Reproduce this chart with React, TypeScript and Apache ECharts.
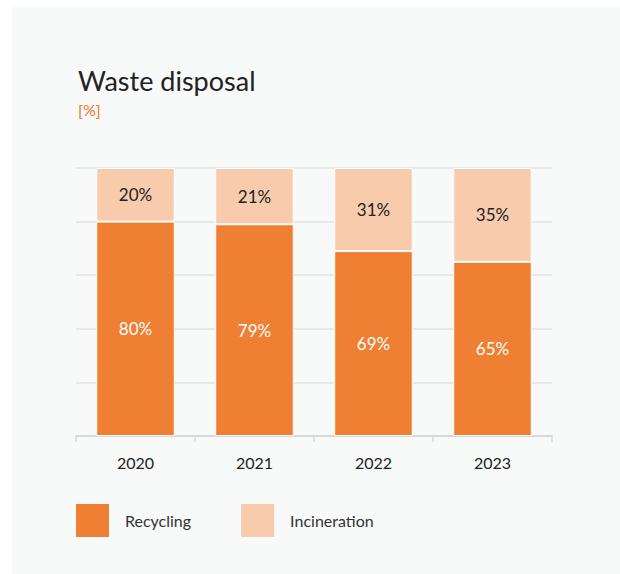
import React, { useEffect, useRef } from "react";
import * as echarts from "echarts";

const years = ["2020", "2021", "2022", "2023"];
const recycling = [80, 79, 69, 65];
const incineration = [20, 21, 31, 35];
const seriesNames = ["Recycling", "Incineration"];

const FONT = "Lato, 'Noto Sans', sans-serif";

export default function App() {
  const ref = useRef<HTMLDivElement>(null);
  useEffect(() => {
    document.body.style.margin = "0";
    const chart = echarts.init(ref.current!, undefined, { renderer: "svg" });
    chart.setOption({
      animation: false,
      backgroundColor: "#ffffff",
      textStyle: { fontFamily: FONT },
      graphic: [
        {
          type: "rect",
          z: -10,
          shape: { x: 12, y: 7, width: 620, height: 580 },
          style: { fill: "#f8f9f9" },
          silent: true,
        },
        {
          type: "text",
          left: 78,
          top: 67,
          style: { text: "Waste disposal", fontSize: 27, fill: "#222222", fontFamily: FONT },
        },
        {
          type: "text",
          left: 78,
          top: 101,
          style: { text: "[%]", fontSize: 16, fontWeight: 500, fill: "#ee7f33", fontFamily: FONT },
        },
      ],
      legend: {
        left: 71,
        top: 499,
        itemWidth: 33,
        itemHeight: 33,
        itemGap: 50,
        icon: "rect",
        data: seriesNames,
        itemStyle: { borderWidth: 0 },
        textStyle: { fontSize: 16, color: "#333333", fontFamily: FONT, padding: [0, 0, 0, 11] },
      },
      grid: { left: 76, right: 68, top: 168, bottom: 138 },
      xAxis: {
        type: "category",
        data: years,
        axisLine: { lineStyle: { color: "#d8d8d8", width: 2 } },
        axisTick: { show: true, length: 6, lineStyle: { color: "#d8d8d8", width: 1.5 } },
        axisLabel: { fontSize: 16, color: "#222222", margin: 18, fontFamily: FONT },
      },
      yAxis: {
        type: "value",
        min: 0,
        max: 100,
        interval: 20,
        axisLabel: { show: false },
        axisLine: { show: false },
        axisTick: { show: false },
        splitLine: { lineStyle: { color: "#e2e2e2", width: 1.5 } },
      },
      series: [
        {
          name: seriesNames[0],
          type: "bar",
          stack: "total",
          barWidth: "66%",
          data: recycling,
          itemStyle: { color: "#ee7f33", borderColor: "#ffffff", borderWidth: 1 },
          label: {
            show: true,
            position: "inside",
            formatter: "{c}%",
            color: "#ffffff",
            fontSize: 17,
            fontFamily: FONT,
          },
        },
        {
          name: seriesNames[1],
          type: "bar",
          stack: "total",
          barWidth: "66%",
          data: incineration,
          itemStyle: { color: "#f8cbad", borderColor: "#ffffff", borderWidth: 1 },
          label: {
            show: true,
            position: "inside",
            formatter: "{c}%",
            color: "#222222",
            fontSize: 17,
            fontFamily: FONT,
          },
        },
      ],
    });
    return () => chart.dispose();
  }, []);
  return <div ref={ref} style={{ width: 620, height: 574 }} />;
}
